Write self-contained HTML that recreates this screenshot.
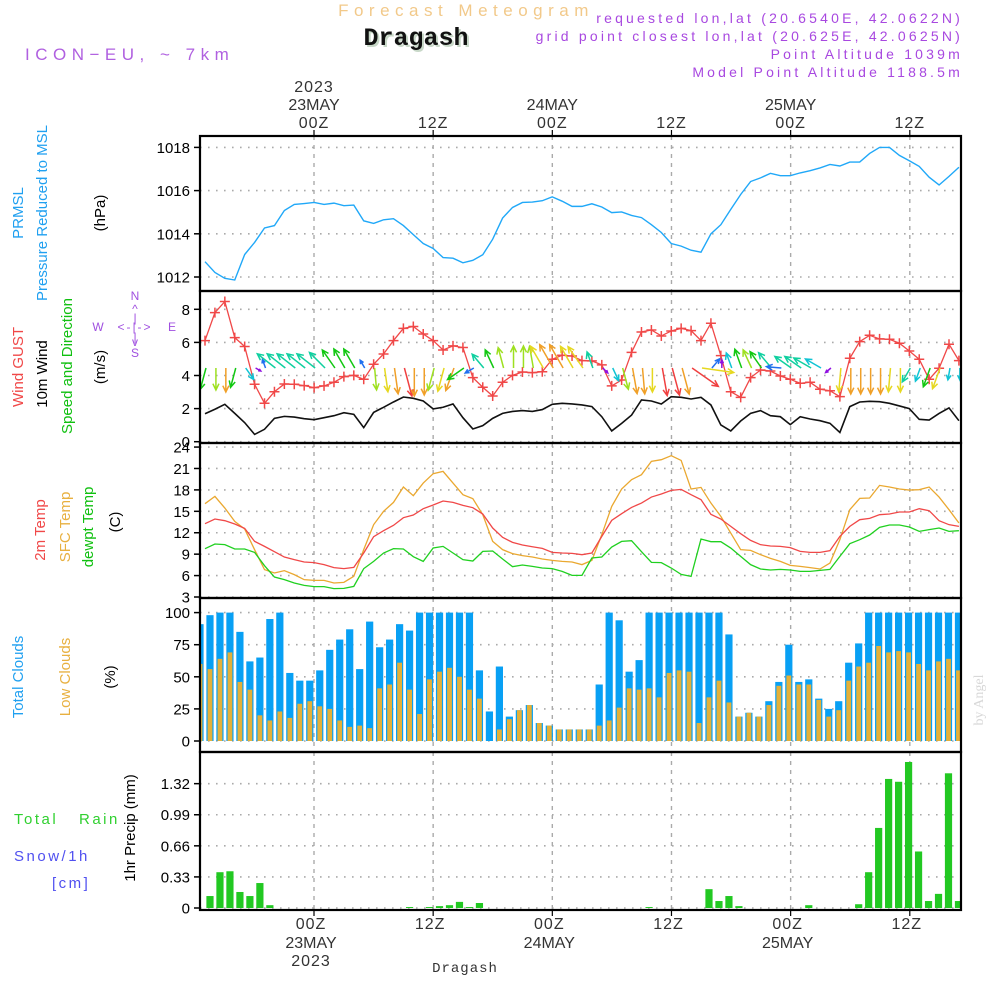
<!DOCTYPE html>
<html><head><meta charset="utf-8"><title>Forecast Meteogram - Dragash</title>
<style>
html,body{margin:0;padding:0;background:#fff;}
svg{display:block;font-family:"Liberation Sans",sans-serif;}
</style></head>
<body>
<svg id="chart" width="1000" height="1000" viewBox="0 0 1000 1000" xmlns="http://www.w3.org/2000/svg">
<defs><clipPath id="plotclip"><rect x="200" y="136" width="761" height="774"/></clipPath></defs>
<rect x="0" y="0" width="1000" height="1000" fill="#fff"/>
<text x="466" y="16" text-anchor="middle" font-size="17" fill="#f2c98a" letter-spacing="5.5">Forecast Meteogram</text>
<text x="418" y="47" text-anchor="middle" font-size="25" font-weight="bold" font-family="Liberation Mono, monospace" fill="#c8d8c8">Dragash</text>
<text x="416" y="45" text-anchor="middle" font-size="25" font-weight="bold" font-family="Liberation Mono, monospace" fill="#111">Dragash</text>
<text x="25" y="60" font-size="17" fill="#b060e0" letter-spacing="5.5" xml:space="preserve">ICON−EU, ~ 7km</text>
<g font-size="14" fill="#a848e0" text-anchor="end" letter-spacing="3.2">
<text x="963" y="23">requested lon,lat (20.6540E, 42.0622N)</text>
<text x="963" y="41">grid point closest lon,lat (20.625E, 42.0625N)</text>
<text x="963" y="59">Point Altitude 1039m</text>
<text x="963" y="77">Model Point Altitude 1188.5m</text>
</g>
<text transform="translate(983,700) rotate(-90)" text-anchor="middle" font-size="14" fill="#d8d8d8" font-family="Liberation Serif, serif">by Angel</text>

<g id="leftlabels" font-size="15">
<text transform="translate(23,213) rotate(-90)" text-anchor="middle" fill="#20a0f0">PRMSL</text>
<text transform="translate(47,213) rotate(-90)" text-anchor="middle" fill="#20a0f0">Pressure Reduced to MSL</text>
<text transform="translate(105,213) rotate(-90)" text-anchor="middle" fill="#000">(hPa)</text>
<text transform="translate(23,367) rotate(-90)" text-anchor="middle" fill="#f04848">Wind GUST</text>
<text transform="translate(47,374) rotate(-90)" text-anchor="middle" fill="#000">10m Wind</text>
<text transform="translate(72,366) rotate(-90)" text-anchor="middle" fill="#10c010">Speed and Direction</text>
<text transform="translate(105,367) rotate(-90)" text-anchor="middle" fill="#000">(m/s)</text>
<g font-size="12" fill="#a050e0" text-anchor="middle">
<text x="135" y="300">N</text><text x="135" y="313">^</text><text x="135" y="322">|</text>
<text x="98" y="331">W</text><text x="135" y="331" letter-spacing="2">&lt;-|-&gt;</text><text x="172" y="331">E</text>
<text x="135" y="341">|</text><text x="135" y="346">v</text><text x="135" y="357">S</text>
</g>
<text transform="translate(45,530) rotate(-90)" text-anchor="middle" fill="#f04848">2m Temp</text>
<text transform="translate(70,527) rotate(-90)" text-anchor="middle" fill="#e8b040">SFC Temp</text>
<text transform="translate(93,527) rotate(-90)" text-anchor="middle" fill="#10c010">dewpt Temp</text>
<text transform="translate(120,522) rotate(-90)" text-anchor="middle" fill="#000">(C)</text>
<text transform="translate(23,677) rotate(-90)" text-anchor="middle" fill="#20a0f0">Total Clouds</text>
<text transform="translate(70,677) rotate(-90)" text-anchor="middle" fill="#e8b040">Low Clouds</text>
<text transform="translate(115,677) rotate(-90)" text-anchor="middle" fill="#000">(%)</text>
<text transform="translate(135,828) rotate(-90)" text-anchor="middle" fill="#000">1hr Precip (mm)</text>
<text x="14" y="824" fill="#30d030" letter-spacing="2.5">Total</text>
<text x="79" y="824" fill="#30d030" letter-spacing="2.5">Rain</text>
<text x="14" y="861" fill="#5050f0" letter-spacing="2.5">Snow/1h</text>
<text x="52" y="888" fill="#5050f0" letter-spacing="2.5">[cm]</text>
</g>
<g id="grid"></g>
<g id="marks" clip-path="url(#plotclip)"></g>
<g id="axes"></g>
<text x="465" y="972" text-anchor="middle" font-size="14" font-family="Liberation Mono, monospace" fill="#333" letter-spacing="1">Dragash</text>
</svg>
<script>
const pressure=[1012.71,1012.21,1011.94,1011.86,1013.04,1013.6,1014.27,1014.38,1015.08,1015.36,1015.4,1015.45,1015.36,1015.42,1015.3,1015.33,1014.6,1014.48,1014.65,1014.7,1014.38,1013.96,1013.55,1013.32,1012.9,1012.87,1012.66,1012.77,1013.03,1013.75,1014.73,1015.22,1015.45,1015.47,1015.53,1015.71,1015.51,1015.27,1015.27,1015.39,1015.24,1014.98,1015.01,1014.85,1014.75,1014.42,1014.06,1013.55,1013.43,1013.24,1013.15,1014.0,1014.42,1015.13,1015.82,1016.42,1016.59,1016.8,1016.69,1016.69,1016.82,1016.92,1017.05,1017.21,1017.14,1017.32,1017.32,1017.72,1018.0,1018.0,1017.63,1017.38,1017.12,1016.62,1016.26,1016.66,1017.08];
const windSpeed=[1.69,1.96,2.26,1.71,1.15,0.44,0.75,1.41,1.53,1.49,1.39,1.33,1.45,1.57,1.75,1.65,0.85,1.77,2.08,2.4,2.7,2.62,2.46,1.98,2.08,2.28,1.45,0.77,0.97,1.41,1.71,1.83,1.88,1.83,1.94,2.26,2.32,2.28,2.22,2.12,1.51,0.65,1.11,1.61,2.52,2.46,2.28,2.72,2.68,2.58,2.68,2.22,1.01,0.65,1.25,1.71,1.88,1.57,1.51,1.03,1.51,1.37,1.27,1.11,0.56,2.12,2.4,2.44,2.42,2.32,2.16,2.0,1.35,1.31,1.71,2.04,1.27];
const windGust=[6.11,7.8,8.47,6.29,5.75,3.47,2.32,3.02,3.49,3.47,3.39,3.27,3.37,3.59,3.93,4.01,3.77,4.68,5.3,6.11,6.85,6.96,6.51,6.11,5.54,5.79,5.69,3.87,3.29,2.76,3.59,4.01,4.21,4.17,4.23,4.98,5.22,5.18,4.9,4.88,4.64,3.37,3.73,5.4,6.63,6.75,6.39,6.69,6.85,6.71,6.11,7.16,5.2,3.02,2.68,3.87,4.33,4.27,3.97,3.77,3.53,3.59,3.17,3.08,2.72,5.04,6.05,6.43,6.21,6.19,5.95,5.48,4.98,3.77,4.44,5.89,4.9];
const windDir=[195,180,180,195,145,120,340,308,308,308,308,308,315,325,330,330,330,175,172,172,165,180,180,195,195,200,235,240,320,335,345,0,0,350,330,330,330,330,325,340,135,155,165,170,175,180,170,165,165,125,98,40,0,340,340,335,325,320,275,305,305,300,300,230,185,180,180,180,180,185,180,210,200,200,200,190,180];
const windColor=["green","ygreen","orange","green","cyan","purple","blue","teal","teal","teal","teal","teal","teal","green","green","green","blue","ygreen","yellow","orange","red","orange","orange","ygreen","yellow","orange","green","blue","teal","green","ygreen","ygreen","ygreen","ygreen","yellow","orange","orange","yellow","yellow","teal","purple","cyan","ygreen","orange","orange","yellow","red","red","orange","red","yellow","blue","purple","cyan","green","ygreen","green","teal","blue","teal","teal","teal","cyan","purple","yellow","orange","orange","orange","orange","yellow","yellow","teal","cyan","green","yellow","cyan","cyan"];
const windLen=[22,22,24,20,14,6,9,23,23,23,23,23,22,22,22,22,9,22,24,26,29,28,27,23,24,24,20,10,18,20,21,22,22,22,25,27,27,25,26,17,7,14,22,26,26,24,28,28,27,32,32,12,8,16,20,20,20,20,15,20,20,20,18,7,24,26,26,26,26,24,24,16,14,20,22,12,12];
const temp2m=[13.27,13.92,13.69,13.22,12.61,10.79,10.09,9.35,8.6,8.23,7.9,7.81,7.53,7.11,6.97,7.15,9.16,11.45,12.29,13.03,14.11,14.48,15.37,15.88,16.44,16.25,15.83,15.51,14.62,12.66,11.35,10.65,10.28,10.04,9.81,9.25,9.16,9.11,8.93,9.16,11.49,13.73,14.67,15.55,16.16,17.0,17.42,17.93,18.07,17.33,16.63,14.57,13.92,12.89,11.87,10.93,10.33,10.14,10.09,9.91,9.39,9.25,9.25,9.49,11.49,12.89,13.83,14.01,14.53,14.62,14.9,14.9,15.37,15.09,13.69,13.13,12.89];
const tempSfc=[16.07,17.09,15.46,13.59,12.52,9.63,6.83,6.36,6.69,6.13,5.43,5.33,5.33,4.96,5.05,5.89,9.63,13.13,15.0,16.25,18.4,17.19,18.96,20.27,20.59,18.96,17.33,16.77,14.53,10.79,9.63,9.07,8.79,8.6,8.32,8.13,7.99,7.9,7.53,8.13,11.73,15.69,18.12,19.43,20.13,22.0,22.23,22.79,22.13,18.12,18.35,16.16,14.29,11.96,9.63,9.53,8.93,8.41,7.99,7.43,7.29,7.11,6.92,7.76,11.03,15.23,16.81,16.86,18.63,18.4,18.12,17.98,18.03,18.4,17.0,15.23,13.36];
const dewpt=[9.77,10.42,10.33,9.72,9.72,9.25,7.39,5.8,5.43,4.96,4.63,4.45,4.45,4.17,4.21,4.49,6.97,7.99,9.16,9.77,9.72,8.65,7.99,9.86,10.09,9.16,8.23,8.04,9.39,9.44,8.32,7.25,7.48,7.29,7.06,6.97,6.59,6.03,6.03,8.46,8.6,10.0,10.79,10.89,9.35,7.85,7.81,7.06,6.17,5.89,11.12,10.75,10.75,9.86,8.69,7.53,6.92,6.78,6.87,6.78,6.59,6.59,6.73,6.87,8.69,10.47,11.03,11.68,12.75,13.08,13.08,12.8,12.19,12.43,12.66,12.19,12.29];
const cloudTotal=[91,98,100,100,85,62,65,95,100,53,47,47,55,71,79,87,56,93,73,79,91,86,100,100,100,100,100,100,55,23,58,19,24,28,14,12,9,9,9,9,44,100,94,54,63,100,100,100,100,100,100,100,100,83,19,22,19,31,46,75,46,48,33,25,31,61,76,100,100,100,100,100,100,100,100,100,100];
const cloudLow=[60,56,64,69,46,40,20,16,23,18,29,31,27,25,16,11,12,10,41,44,61,40,21,48,54,57,50,40,33,0,9,17,24,28,14,12,9,9,9,9,12,16,26,41,40,41,34,53,55,54,14,34,47,30,19,22,19,28,43,51,44,44,32,19,24,47,58,61,74,69,70,69,60,55,62,64,55];
const precip=[0,0.127,0.38,0.39,0.17,0.127,0.265,0.03,0,0,0,0,0,0,0,0,0,0,0,0,0,0.01,0,0.01,0.02,0.03,0.065,0.01,0.053,0,0,0,0,0,0,0,0,0,0,0,0,0,0,0,0,0.01,0,0,0,0,0,0.2,0.074,0.127,0.02,0,0,0,0,0,0,0.03,0,0,0,0,0.04,0.38,0.85,1.37,1.34,1.55,0.6,0.074,0.15,1.43,0.074];
const pressureTicks=[1012,1014,1016,1018];
const windTicks=[0,2,4,6,8];
const tempTicks=[3,6,9,12,15,18,21,24];
const cloudTicks=[0,25,50,75,100];
const precipTicks=[0,0.33,0.66,0.99,1.32];
const timeHours=[0,12,24,36,48,60];
const timeLabels=["00Z","12Z","00Z","12Z","00Z","12Z"];
const dayLabels=["23MAY","","24MAY","","25MAY",""];
const yearLabels=["2023","","","","",""];

const NS="http://www.w3.org/2000/svg";
const svg=document.getElementById('chart');
const gGrid=document.getElementById('grid');
const gMarks=document.getElementById('marks');
const gAxes=document.getElementById('axes');
const X0=200,X1=961;
const xHour=h=>314+h*9.93;
const xPt=i=>205+i*9.92;
const xBar=j=>200+j*9.98;
const yP=v=>277-(v-1012)*21.6;
const yW=v=>441.7-v*16.55;
const yT=v=>597-(v-3)*7.14;
const yC=v=>741-v*1.284;
const yR=v=>908-v*94.2;
const COLORS={green:"#12c812",ygreen:"#9ee020",yellow:"#e6d820",orange:"#f0a028",red:"#f04040",cyan:"#10c4d4",teal:"#10d0a0",blue:"#2070f0",purple:"#9010e0"};
function el(tag,attrs,parent){const e=document.createElementNS(NS,tag);for(const k in attrs)e.setAttribute(k,attrs[k]);(parent||svg).appendChild(e);return e;}

const panels=[
 {name:"pressure",top:136,bot:291,ticks:pressureTicks,y:yP,fmt:v=>String(v)},
 {name:"wind",top:291,bot:443,ticks:windTicks,y:yW,fmt:v=>String(v)},
 {name:"temp",top:443,bot:598,ticks:tempTicks,y:yT,fmt:v=>String(v)},
 {name:"cloud",top:598,bot:752,ticks:cloudTicks,y:yC,fmt:v=>String(v)},
 {name:"precip",top:752,bot:910,ticks:precipTicks,y:yR,fmt:v=>v===0?"0":v.toFixed(2)}
];
panels.forEach(p=>{
  p.ticks.forEach(t=>{
    const y=p.y(t);
    const gl=el('line',{x1:X0,x2:X1,y1:y,y2:y,stroke:"#aaa","stroke-width":1.6,"stroke-dasharray":"1.6,6.4"},gGrid);
    
    
    const tk=el('line',{x1:194,x2:200,y1:y,y2:y,stroke:"#000","stroke-width":1.5},gAxes);
    
    
    const tl=el('text',{x:190,y:y+5.5,"text-anchor":"end","font-size":15,fill:"#000"},gAxes);
    tl.textContent=p.fmt(t);
    
    
  });
  timeHours.forEach(h=>{
    const x=xHour(h);
    const vl=el('line',{x1:x,x2:x,y1:p.top,y2:p.bot,stroke:"#aaa","stroke-width":1.4,"stroke-dasharray":"4,5"},gGrid);
    
    
  });
});

const pl=el('polyline',{points:pressure.map((v,i)=>xPt(i)+","+yP(v)).join(" "),fill:"none",stroke:"#20a8f8","stroke-width":1.4},gMarks);



const wl=el('polyline',{points:windSpeed.map((v,i)=>xPt(i)+","+yW(v)).join(" "),fill:"none",stroke:"#111","stroke-width":1.6},gMarks);


const gl=el('polyline',{points:windGust.map((v,i)=>xPt(i)+","+yW(v)).join(" "),fill:"none",stroke:"#f04848","stroke-width":1.3},gMarks);


windGust.forEach((v,i)=>{
  const x=xPt(i),y=yW(v);
  const m=el('path',{d:`M${x-5},${y}H${x+5}M${x},${y-5}V${y+5}`,stroke:"#f04848","stroke-width":1.5,fill:"none"},gMarks);
  
  
});
windDir.forEach((d,i)=>{
  const L=windLen[i];
  const a=d*Math.PI/180;
  const x0=xPt(i)+1,y0=368;
  const x1=x0+L*Math.sin(a),y1=y0-L*Math.cos(a);
  const h=Math.min(7,L*0.45);
  const ang=Math.atan2(y0-y1,x0-x1);
  const hx1=x1+h*Math.cos(ang+0.45),hy1=y1+h*Math.sin(ang+0.45);
  const hx2=x1+h*Math.cos(ang-0.45),hy2=y1+h*Math.sin(ang-0.45);
  const ar=el('path',{d:`M${x0},${y0}L${x1},${y1}M${hx1},${hy1}L${x1},${y1}L${hx2},${hy2}`,stroke:COLORS[windColor[i]],"stroke-width":1.5,fill:"none"},gMarks);
  
  
});

[[tempSfc,"#eaa830","sfc-temp-line"],[temp2m,"#f04848","temp-2m-line"],[dewpt,"#20d020","dewpoint-line"]].forEach(([arr,c,n])=>{
  const l=el('polyline',{points:arr.map((v,i)=>xPt(i)+","+yT(v)).join(" "),fill:"none",stroke:c,"stroke-width":1.3},gMarks);
  
  
});

cloudTotal.forEach((v,j)=>{
  const x=xBar(j);
  const b=el('rect',{x:x-3.6,y:yC(v),width:7.2,height:yC(0)-yC(v),fill:"#08a0f4"},gMarks);
  
  
});
cloudLow.forEach((v,j)=>{
  const x=xBar(j);
  const b=el('rect',{x:x-2.4,y:yC(v),width:4.8,height:yC(0)-yC(v),fill:"#e4b038"},gMarks);
  
  
});
precip.forEach((v,j)=>{
  if(v<=0)return;
  const x=xBar(j);
  const b=el('rect',{x:x-3.6,y:yR(v),width:7.2,height:yR(0)-yR(v),fill:"#22c822"},gMarks);
  
  
});

panels.forEach(p=>{
  const r=el('rect',{x:X0,y:p.top,width:X1-X0,height:p.bot-p.top,fill:"none",stroke:"#000","stroke-width":2.2},gAxes);
  
  
});
timeHours.forEach((h,k)=>{
  const x=xHour(h);
  const t1=el('line',{x1:x,x2:x,y1:130,y2:136,stroke:"#000","stroke-width":1.2},gAxes);
  
  
  const t2=el('line',{x1:x,x2:x,y1:910,y2:916,stroke:"#000","stroke-width":1.2},gAxes);
  
  
  const a=el('text',{x:x,y:128,"text-anchor":"middle","font-size":16,fill:"#333","letter-spacing":"1"},gAxes);
  a.textContent=timeLabels[k];
  
  
  const b=el('text',{x:x-3,y:929,"text-anchor":"middle","font-size":16,fill:"#333","letter-spacing":"1"},gAxes);
  b.textContent=timeLabels[k];
  
  
  if(dayLabels[k]){
    const c=el('text',{x:x,y:110,"text-anchor":"middle","font-size":16,fill:"#333"},gAxes);
    c.textContent=dayLabels[k];
    
    
    const d=el('text',{x:x-3,y:948,"text-anchor":"middle","font-size":16,fill:"#333"},gAxes);
    d.textContent=dayLabels[k];
    
    
  }
  if(yearLabels[k]){
    const e=el('text',{x:x,y:92,"text-anchor":"middle","font-size":16,fill:"#333","letter-spacing":"1"},gAxes);
    e.textContent=yearLabels[k];
    
    
    const f=el('text',{x:x-3,y:966,"text-anchor":"middle","font-size":16,fill:"#333","letter-spacing":"1"},gAxes);
    f.textContent=yearLabels[k];
    
    
  }
});
</script>
</body></html>
